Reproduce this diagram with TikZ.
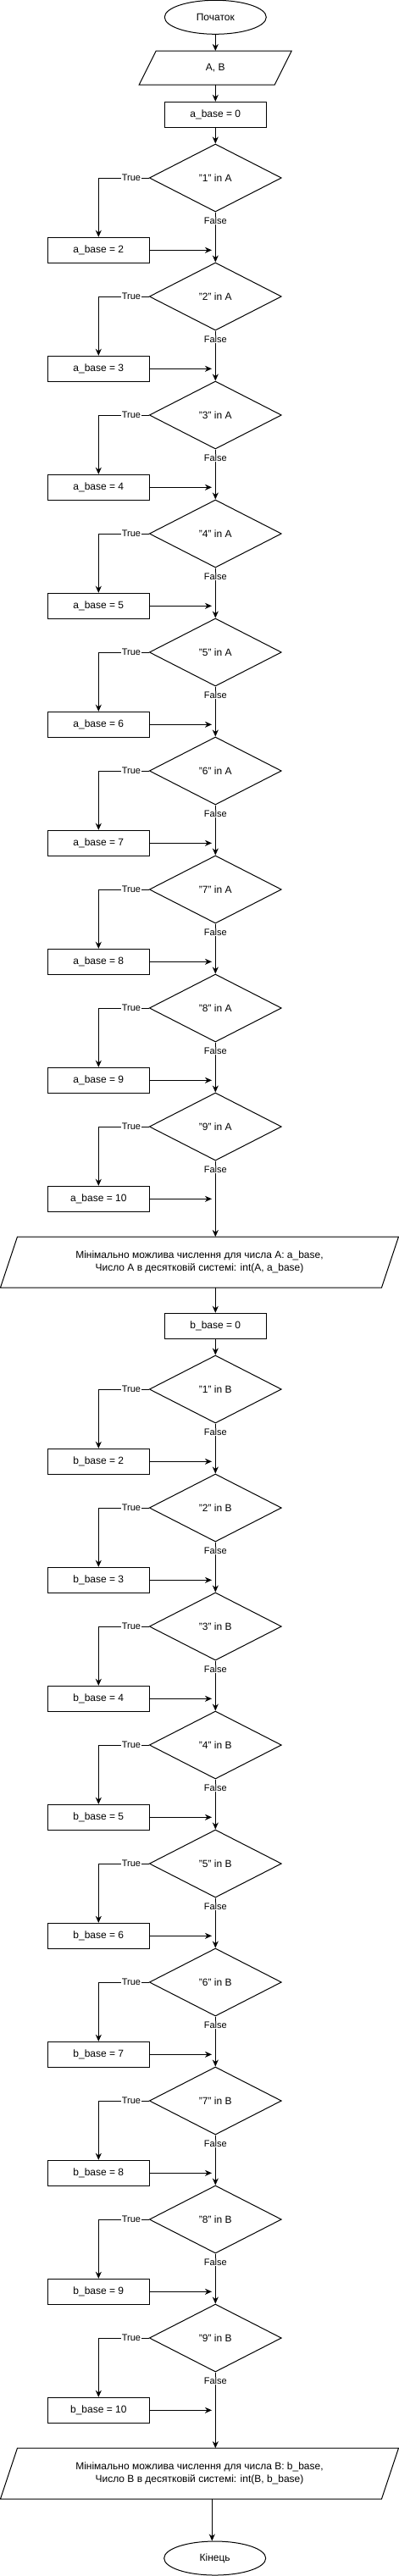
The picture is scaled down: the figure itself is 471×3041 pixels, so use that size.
\documentclass[tikz,border=0pt]{standalone}
\usepackage{fontspec}
\setmainfont{Liberation Sans}
\usetikzlibrary{shapes.geometric,arrows.meta,calc}
\begin{document}
\begin{tikzpicture}[x=1pt,y=-1pt,
  every node/.style={font=\fontsize{12}{14.5}\selectfont},
  base/.style={draw, line width=1pt, inner sep=0pt},
  term/.style={base, ellipse, minimum width=120pt, minimum height=40pt},
  proc/.style={base, rectangle, minimum width=120pt, minimum height=30pt},
  dec/.style={base, diamond, aspect=1.95, minimum width=156pt, minimum height=80pt},
  iobox/.style={rectangle, inner sep=0pt, outer sep=0pt, align=center},
  outline/.style={line width=1pt, line join=miter},
  arr/.style={line width=1pt, -{Stealth[length=8pt,width=7pt,inset=2.5pt]}},
  lbl/.style={fill=white, inner sep=0.6pt, font=\fontsize{11}{13}\selectfont},
]
\useasboundingbox (0,0) rectangle (471,3041);

% top part
\node[term] (start) at (254.3,20.3) {Початок};
\node[iobox, minimum width=160pt, minimum height=40pt] (in) at (254.3,80) {A, B};
\draw[outline] ($(in.north west)+(10,0)$) -- ($(in.north east)+(10,0)$) -- ($(in.south east)+(-10,0)$) -- ($(in.south west)+(-10,0)$) -- cycle;
\node[proc] (a0) at (254.3,135.3) {a\_base = 0};

\foreach \k in {1,...,9} {
  \pgfmathsetmacro\yd{210+140*(\k-1)}
  \pgfmathsetmacro\yb{295.3+140*(\k-1)}
  \pgfmathtruncatemacro\v{\k+1}
  \node[dec] (da\k) at (254.3,\yd) {"\k" in A};
  \node[proc] (ba\k) at (116.3,\yb) {a\_base = \v};
}

\node[iobox, minimum width=450pt, minimum height=60pt] (pa) at (235.5,1490)
  {Мінімально можлива числення для числа A: a\_base,\\Число A в десятковій системі: int(A, a\_base)};
\draw[outline] ($(pa.north west)+(10,0)$) -- ($(pa.north east)+(10,0)$) -- ($(pa.south east)+(-10,0)$) -- ($(pa.south west)+(-10,0)$) -- cycle;

\node[proc] (b0) at (254.3,1565.3) {b\_base = 0};

\foreach \k in {1,...,9} {
  \pgfmathsetmacro\yd{1640+140*(\k-1)}
  \pgfmathsetmacro\yb{1725.3+140*(\k-1)}
  \pgfmathtruncatemacro\v{\k+1}
  \node[dec] (db\k) at (254.3,\yd) {"\k" in B};
  \node[proc] (bb\k) at (116.3,\yb) {b\_base = \v};
}

\node[iobox, minimum width=450pt, minimum height=60pt] (pb) at (235.5,2920)
  {Мінімально можлива числення для числа B: b\_base,\\Число B в десятковій системі: int(B, b\_base)};
\draw[outline] ($(pb.north west)+(10,0)$) -- ($(pb.north east)+(10,0)$) -- ($(pb.south east)+(-10,0)$) -- ($(pb.south west)+(-10,0)$) -- cycle;

\node[term] (endn) at (253.7,3020) {Кінець};
\coordinate (ein) at ($(endn.north)+(-3.4,0)$);

% connectors
\draw[arr] (start.south) -- (in.north);
\draw[arr] (in.south) -- (a0.north);
\draw[arr] (a0.south) -- (da1.north);
\draw[arr] (b0.south) -- (db1.north);

\foreach \k in {1,...,9} {
  \draw[arr] (da\k.west) -| node[lbl, pos=0.175]{True} (ba\k.north);
  \draw[arr] (ba\k.east) -- ($(ba\k.east -| da\k.south)+(-4.3,0)$);
  \draw[arr] (db\k.west) -| node[lbl, pos=0.175]{True} (bb\k.north);
  \draw[arr] (bb\k.east) -- ($(bb\k.east -| db\k.south)+(-4.3,0)$);
}
\foreach \k [evaluate=\k as \n using int(\k+1)] in {1,...,8} {
  \draw[arr] (da\k.south) -- node[lbl, pos=0.167]{False} (da\n.north);
  \draw[arr] (db\k.south) -- node[lbl, pos=0.167]{False} (db\n.north);
}
\draw[arr] (da9.south) -- node[lbl, pos=0.111]{False} (da9.south |- pa.north);
\draw[arr] (b0.north |- pa.south) -- (b0.north);
\draw[arr] (db9.south) -- node[lbl, pos=0.111]{False} (db9.south |- pb.north);
\draw[arr] (ein |- pb.south) -- (ein);
\end{tikzpicture}
\end{document}
